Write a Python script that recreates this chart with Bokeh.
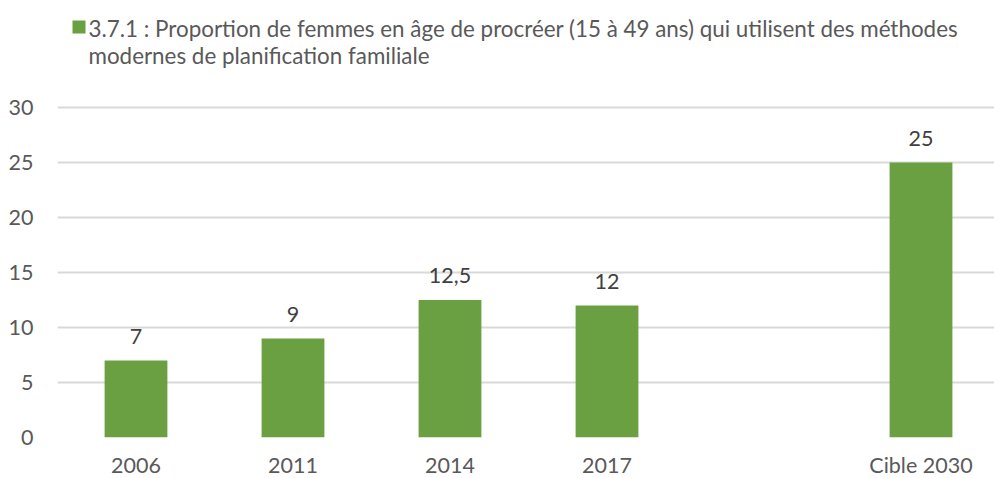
from bokeh.plotting import figure
from bokeh.models import Range1d, FixedTicker, ColumnDataSource
from bokeh.core.properties import value
from bokeh.embed import file_html
from bokeh.resources import INLINE

# ---- data ----
categories = ["2006", "2011", "2014", "2017", "", "Cible 2030"]
values = [7, 9, 12.5, 12, None, 25]
value_labels = ["7", "9", "12,5", "12", "", "25"]
y_ticks = [0, 5, 10, 15, 20, 25, 30]
series_name_lines = ["3.7.1 : Proportion de femmes en âge de procréer (15 à 49 ans) qui utilisent des méthodes",
                     "modernes de planification familiale"]

FONT = "Lato"
GREEN = "#6AA042"
GREY = "#595959"
DARK = "#404040"

# layout geometry (pixels)
FRAME_W, FRAME_H = 937, 429      # frame covers legend strip + plotting area
SLOT = 157                        # pixels per category
PX_PER_UNIT = 11                  # pixels per y unit
Y_TOP = FRAME_H / PX_PER_UNIT     # data value at the frame's top edge
X_LEFT = -0.5


def px_x(px):   # pixel offset from frame left -> data x
    return X_LEFT + px / SLOT


def px_y(px):   # pixel offset from frame top -> data y
    return Y_TOP - px / PX_PER_UNIT


xs = [i for i, v in enumerate(values) if v is not None]
ys = [v for v in values if v is not None]
labs = [value_labels[i] for i in xs]
src = ColumnDataSource(dict(x=xs, y=ys, lab=labs))

p = figure(width=57 + FRAME_W, output_backend="svg", toolbar_location=None,
           frame_width=FRAME_W, frame_height=FRAME_H,
           x_range=Range1d(X_LEFT, X_LEFT + FRAME_W / SLOT), y_range=Range1d(0, Y_TOP),
           min_border_left=57, min_border_right=0, min_border_top=8, min_border_bottom=0)
p.outline_line_color = None

p.vbar(x="x", top="y", bottom=0, width=0.4, source=src, fill_color=GREEN, line_color=None)
p.text(x="x", y="y", text="lab", source=src, text_align="center", text_baseline="bottom",
       y_offset=-17, text_font_size="21.5px", text_color=DARK, text_font=value(FONT))

# legend (drawn inside the top strip of the frame)
p.rect(x=[px_x(21.5)], y=[px_y(18.5)], width=13, height=13,
       width_units="screen", height_units="screen", fill_color=GREEN, line_color=None)
p.text(x=[px_x(31)] * 2, y=[px_y(20), px_y(47)], text=series_name_lines,
       text_baseline="middle", text_align="left", text_font=value(FONT),
       text_font_size="22.4px", text_color=GREY)

p.xaxis.ticker = FixedTicker(ticks=list(range(len(categories))))
p.xaxis.major_label_overrides = {i: c for i, c in enumerate(categories)}
p.xaxis.axis_line_color = None
p.xaxis.major_tick_line_color = None
p.xaxis.major_tick_out = 0
p.xaxis.minor_tick_line_color = None
p.xaxis.major_label_standoff = 14
p.xaxis.major_label_text_font = FONT
p.xaxis.major_label_text_font_size = "21.5px"
p.xaxis.major_label_text_color = GREY
p.xgrid.grid_line_color = None

p.yaxis.ticker = FixedTicker(ticks=y_ticks)
p.yaxis.axis_line_color = None
p.yaxis.major_tick_line_color = None
p.yaxis.major_tick_out = 0
p.yaxis.minor_tick_line_color = None
p.yaxis.major_label_standoff = 24
p.yaxis.major_label_text_font = FONT
p.yaxis.major_label_text_font_size = "21.5px"
p.yaxis.major_label_text_color = GREY
p.ygrid.grid_line_color = "#D9D9D9"
p.ygrid.grid_line_width = 2

open("out.html", "w").write(file_html(p, INLINE))
